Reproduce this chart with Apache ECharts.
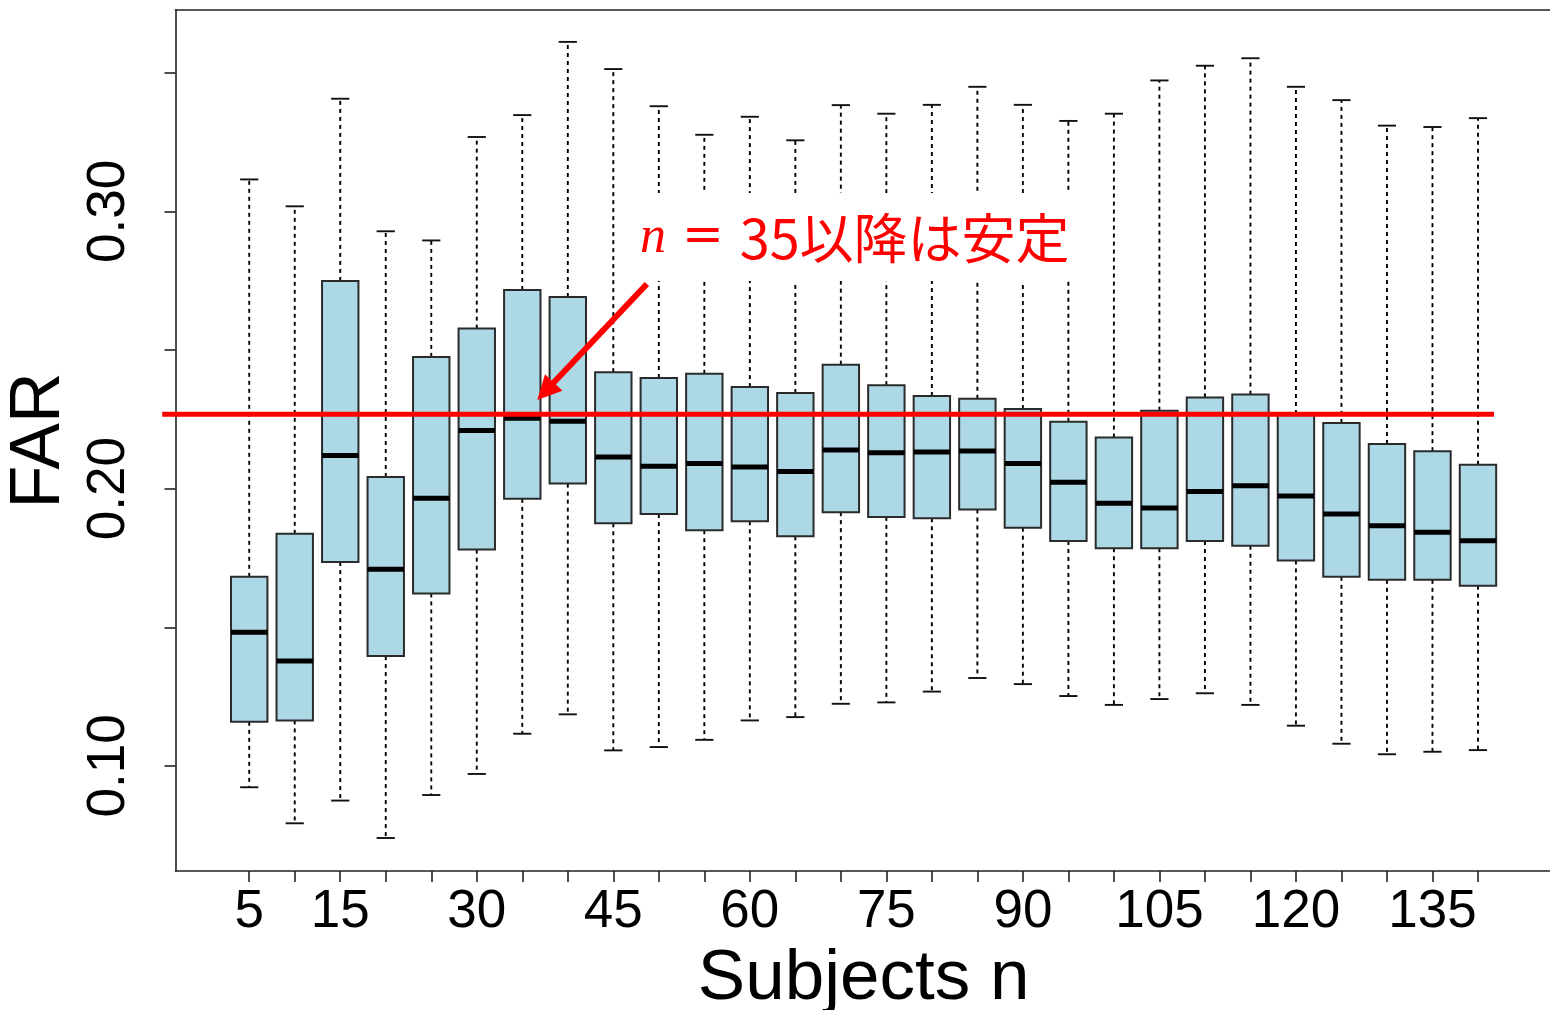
<!DOCTYPE html>
<html>
<head>
<meta charset="utf-8">
<title>FAR by number of subjects</title>
<script src="https://cdn.jsdelivr.net/npm/echarts@6/dist/echarts.min.js"></script>
<style>
  html, body { margin: 0; padding: 0; background: #ffffff; }
  #chart { width: 1550px; height: 1010px; }
</style>
</head>
<body>
<div id="chart"></div>
<script>
// Number of subjects per group (x positions of the boxes)
const subjects = [5, 10, 15, 20, 25, 30, 35, 40, 45, 50, 55, 60, 65, 70,
                  75, 80, 85, 90, 95, 100, 105, 110, 115, 120, 125, 130, 135, 140];

// Five-number summaries of FAR for each group
const whiskerLow = [0.0923, 0.0793, 0.0875, 0.0740, 0.0895, 0.0971, 0.1116, 0.1186, 0.1056, 0.1068,
                    0.1094, 0.1164, 0.1176, 0.1224, 0.1229, 0.1268, 0.1317, 0.1295, 0.1252, 0.1220,
                    0.1241, 0.1262, 0.1220, 0.1145, 0.1080, 0.1042, 0.1051, 0.1057];
const quartile1  = [0.1159, 0.1164, 0.1735, 0.1396, 0.1622, 0.1780, 0.1963, 0.2018, 0.1875, 0.1908,
                    0.1850, 0.1882, 0.1828, 0.1915, 0.1898, 0.1893, 0.1925, 0.1859, 0.1811, 0.1785,
                    0.1785, 0.1811, 0.1794, 0.1741, 0.1682, 0.1671, 0.1671, 0.1650];
const medians    = [0.1482, 0.1378, 0.2119, 0.1709, 0.1965, 0.2210, 0.2254, 0.2243, 0.2114, 0.2081,
                    0.2091, 0.2078, 0.2062, 0.2139, 0.2129, 0.2132, 0.2136, 0.2091, 0.2023, 0.1947,
                    0.1930, 0.1990, 0.2010, 0.1973, 0.1908, 0.1866, 0.1843, 0.1812];
const quartile3  = [0.1682, 0.1837, 0.2749, 0.2042, 0.2475, 0.2577, 0.2716, 0.2691, 0.2420, 0.2399,
                    0.2414, 0.2366, 0.2345, 0.2447, 0.2373, 0.2334, 0.2324, 0.2287, 0.2241, 0.2184,
                    0.2281, 0.2329, 0.2339, 0.2269, 0.2237, 0.2161, 0.2135, 0.2086];
const whiskerHigh = [0.3115, 0.3018, 0.3406, 0.2928, 0.2895, 0.3268, 0.3347, 0.3611, 0.3513, 0.3379,
                     0.3276, 0.3341, 0.3256, 0.3383, 0.3352, 0.3384, 0.3449, 0.3384, 0.3326, 0.3352,
                     0.3472, 0.3525, 0.3552, 0.3449, 0.3401, 0.3309, 0.3304, 0.3336];

// Axis ticks and labels
const xTickLabels = [5, 15, 30, 45, 60, 75, 90, 105, 120, 135];
const yTickValues = [0.10, 0.15, 0.20, 0.25, 0.30, 0.35];
const yTickLabels = [0.10, 0.20, 0.30];

// Level where FAR settles from n = 35 on, and the annotation arrow (data units)
const stableFAR = 0.2268;
const stableSpan = [-4.56, 141.76];
const arrowFrom = [48.69, 0.2738];
const arrowTo = [37.55, 0.2351];

const boxData = subjects.map((n, i) =>
  [n, whiskerLow[i], quartile1[i], medians[i], quartile3[i], whiskerHigh[i]]);

const frameColor = '#222222';
const labelFont = 'Liberation Sans';

// R-style box: dashed whiskers with short staples, filled box, heavy median
function renderBox(params, api) {
  const n = api.value(0);
  const lo = api.coord([n, api.value(1)]);
  const q1 = api.coord([n, api.value(2)]);
  const md = api.coord([n, api.value(3)]);
  const q3 = api.coord([n, api.value(4)]);
  const hi = api.coord([n, api.value(5)]);
  const step = api.size([5, 0])[0];     // distance between neighbouring groups
  const half = step * 0.4;              // box width = 0.8 of a step
  const cap = step * 0.2;               // staples = half the box width
  const x = lo[0];
  const dash = { stroke: '#000000', lineWidth: 1.9, lineDash: [4, 4] };
  const solid = { stroke: '#111111', lineWidth: 1.9 };
  return {
    type: 'group',
    children: [
      { type: 'line', shape: { x1: x, y1: q3[1], x2: x, y2: hi[1] }, style: dash },
      { type: 'line', shape: { x1: x, y1: q1[1], x2: x, y2: lo[1] }, style: dash },
      { type: 'line', shape: { x1: x - cap, y1: hi[1], x2: x + cap, y2: hi[1] }, style: solid },
      { type: 'line', shape: { x1: x - cap, y1: lo[1], x2: x + cap, y2: lo[1] }, style: solid },
      { type: 'rect',
        shape: { x: x - half, y: q3[1], width: half * 2, height: q1[1] - q3[1] },
        style: { fill: '#ADD8E6', stroke: '#2b2b2b', lineWidth: 2 } },
      { type: 'line', shape: { x1: x - half, y1: md[1], x2: x + half, y2: md[1] },
        style: { stroke: '#000000', lineWidth: 5 } }
    ]
  };
}

// Horizontal reference level, allowed to run slightly past the frame
function renderLevel(params, api) {
  const a = api.coord([api.value(0), api.value(2)]);
  const b = api.coord([api.value(1), api.value(2)]);
  return {
    type: 'line',
    shape: { x1: a[0], y1: a[1], x2: b[0], y2: b[1] },
    style: { stroke: '#ff0000', lineWidth: 5 }
  };
}

const chart = echarts.init(document.getElementById('chart'), null, { renderer: 'canvas' });

chart.setOption({
  animation: false,
  backgroundColor: '#ffffff',
  title: {
    text: '{i|n}{eq| = }{t|35以降は安定}',
    left: 632,
    top: 193,
    padding: [15, 12, 13, 8],
    backgroundColor: '#ffffff',
    textStyle: {
      color: '#ff0000',
      fontWeight: 'normal',
      fontSize: 54,
      lineHeight: 60,
      rich: {
        i: { fontFamily: 'Liberation Serif', fontStyle: 'italic', fontWeight: 'normal', fontSize: 52, color: '#ff0000', lineHeight: 60 },
        eq: { fontFamily: 'DejaVu Serif', fontWeight: 'normal', fontSize: 50, color: '#ff0000', lineHeight: 60 },
        t: { fontFamily: 'Noto Sans CJK JP', fontWeight: 'normal', fontSize: 54, color: '#ff0000', lineHeight: 60 }
      }
    }
  },
  grid: {
    left: 175.5,
    right: -1.7,
    top: 10,
    bottom: 139,
    containLabel: false,
    outerBoundsMode: 'none'
  },
  xAxis: [
    {
      type: 'value',
      position: 'bottom',
      min: -3.1,
      max: 148.1,
      splitLine: { show: false },
      axisLine: { show: true, onZero: false, lineStyle: { color: frameColor, width: 1.6 } },
      axisTick: { show: true, customValues: subjects, length: 11, lineStyle: { color: frameColor, width: 1.6 } },
      axisLabel: {
        customValues: xTickLabels,
        formatter: v => String(v),
        fontSize: 53,
        fontFamily: labelFont,
        color: '#000000',
        margin: 15
      },
      name: 'Subjects n',
      nameLocation: 'middle',
      nameGap: 60,
      nameTextStyle: { fontSize: 71, fontFamily: labelFont, color: '#000000' }
    },
    {
      type: 'value',
      position: 'top',
      min: -3.1,
      max: 148.1,
      splitLine: { show: false },
      axisLine: { show: true, onZero: false, lineStyle: { color: frameColor, width: 1.6 } },
      axisTick: { show: false },
      axisLabel: { show: false }
    }
  ],
  yAxis: [
    {
      type: 'value',
      position: 'left',
      min: 0.0621,
      max: 0.3726,
      splitLine: { show: false },
      axisLine: { show: true, onZero: false, lineStyle: { color: frameColor, width: 1.6 } },
      axisTick: { show: true, customValues: yTickValues, length: 11, lineStyle: { color: frameColor, width: 1.6 } },
      axisLabel: {
        customValues: yTickLabels,
        formatter: v => v.toFixed(2),
        rotate: 90,
        fontSize: 53,
        fontFamily: labelFont,
        color: '#000000',
        margin: 40
      },
      name: 'FAR',
      nameLocation: 'middle',
      nameRotate: 90,
      nameGap: 97,
      nameTextStyle: { fontSize: 70, fontFamily: labelFont, color: '#000000' }
    },
    {
      type: 'value',
      position: 'right',
      min: 0.0621,
      max: 0.3726,
      splitLine: { show: false },
      axisLine: { show: true, onZero: false, lineStyle: { color: frameColor, width: 1.6 } },
      axisTick: { show: false },
      axisLabel: { show: false }
    }
  ],
  series: [
    {
      name: 'FAR',
      type: 'custom',
      xAxisIndex: 0,
      yAxisIndex: 0,
      data: boxData,
      encode: { x: 0, y: [1, 2, 3, 4, 5] },
      renderItem: renderBox,
      z: 2
    },
    {
      name: 'stable level',
      type: 'custom',
      xAxisIndex: 0,
      yAxisIndex: 0,
      clip: false,
      silent: true,
      data: [[stableSpan[0], stableSpan[1], stableFAR]],
      encode: { x: [0, 1], y: 2 },
      renderItem: renderLevel,
      z: 5,
      markLine: {
        silent: true,
        symbol: ['none', 'triangle'],
        symbolSize: 24,
        label: { show: false },
        lineStyle: { color: '#ff0000', width: 6, type: 'solid' },
        emphasis: { disabled: true },
        data: [[{ coord: arrowFrom }, { coord: arrowTo }]]
      }
    }
  ]
});
</script>
</body>
</html>
